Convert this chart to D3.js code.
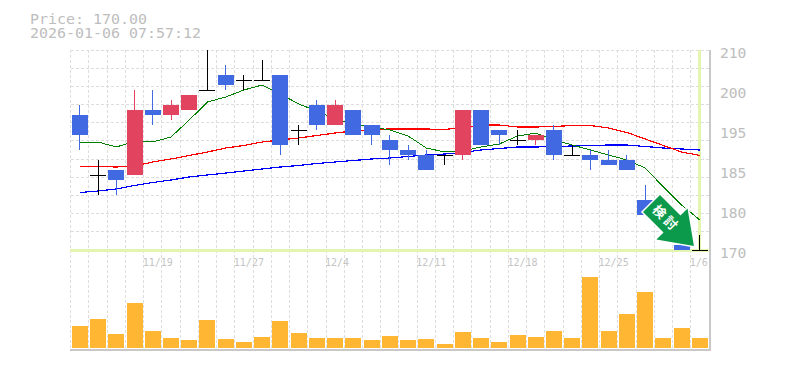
<!DOCTYPE html>
<html><head><meta charset="utf-8">
<style>html,body{margin:0;padding:0;background:#fff}svg{display:block}</style>
<script src="https://cdn.jsdelivr.net/npm/d3@7/dist/d3.min.js"></script>
</head><body><svg id="c" width="785" height="370"></svg>
<script>
const opens  =[197,185,186,185,198,197,198,202,205,204,204,205,194,199,195,198,195,192,190,189,189,189,198,194,192,192,194,189,189,188,188,180,178,171,170];
const closes =[193,185,184,198,197,199,201,202,203,204,204,191,194,195,199,193,193,190,189,186,189,198,191,193,192,193,189,189,188,187,186,177,175,170,170];
const highs  =[199,188,186,202,202,200,201,210,207,205,208,205,195,200,200,198,195,193,191,190,189,198,198,194,194,193,195,191,190,190,189,183,178,171,173];
const lows   =[190,181,181,185,195,196,198,202,202,202,204,189,191,194,195,193,191,187,188,186,187,188,191,191,191,191,188,189,186,187,186,177,175,170,170];
const volumes=[22,29,14,45,17,10,8,28,9,6,11,27,15,10,10,10,8,12,8,9,4,16,10,6,13,11,17,10,71,17,34,56,10,20,10];
const ma5 =[191.6,191.6,190.6,191.7,191.6,192.6,196,199.6,200.6,202,203,201.2,199.2,197.8,196.2,195.2,194.6,194,192.8,190.4,189.6,189.8,190.6,191.2,192.8,193.4,192,191,190,189,188,186.4,182.6,179,176];
const ma25=[186.7,186.7,186.6,186.8,187.6,188.2,188.9,189.6,190.4,190.9,191.6,192,192.4,192.9,193.4,193.8,194.1,194.2,194.2,194.2,194.1,194.5,195,195,194.6,194.6,194.7,194.9,194.9,194.4,193.5,192.2,190.9,189.6,188.9];
const ma75=[181.5,181.8,182.2,182.9,183.5,184,184.6,185,185.4,185.8,186.2,186.6,186.9,187.3,187.6,187.9,188.2,188.4,188.7,189,189.2,189.5,190,190.3,190.6,190.6,190.7,190.8,190.9,191,191,190.7,190.4,190.2,190];
const dayIndex=[...opens.keys()];
const xTickIdx=[4,9,14,19,24,29,34];
const xTickLabels=["11/19","11/27","12/4","12/11","12/18","12/25","1/6"];
const yTickVals=[170,178,186,194,202,210];
const yTickLabels=["170","180","185","195","200","210"];
const priceLabel="Price: 170.00", timeLabel="2026-01-06 07:57:12", currentPrice=170;

const svg=d3.select("#c");
const L=70.7,R=709,T=50,B=250,VT=277,VB=348;
const x=d3.scaleBand().domain(dayIndex).range([L,R]).paddingInner(0);
const cx=i=>x(i)+x.bandwidth()/2;
const y=d3.scaleLinear().domain([170,210]).range([B,T]);
const v=d3.scaleLinear().domain([0,d3.max(volumes)]).range([VB,VT]);
const mono="'DejaVu Sans Mono','Liberation Mono',monospace";
const g=svg.append("g").attr("shape-rendering","crispEdges");

// grid
g.selectAll(".vg").data(d3.range(36)).join("line")
 .attr("x1",i=>L+i*x.step()).attr("x2",i=>L+i*x.step()).attr("y1",T).attr("y2",VB+2)
 .attr("stroke","#ddd").attr("stroke-dasharray","3 2");
g.selectAll(".hg").data(d3.range(12)).join("line")
 .attr("x1",L).attr("x2",R).attr("y1",i=>T+i*(B-T)/11).attr("y2",i=>T+i*(B-T)/11)
 .attr("stroke","#ddd").attr("stroke-dasharray","3 2");
// frame
g.append("line").attr("x1",L-1).attr("x2",R+2).attr("y1",350).attr("y2",350).attr("stroke","#c8c8c8").attr("stroke-width",2);
g.append("line").attr("x1",R+1).attr("x2",R+1).attr("y1",T).attr("y2",350).attr("stroke","#c8c8c8").attr("stroke-width",2);
// current price guide
g.append("line").attr("x1",L-1).attr("x2",R).attr("y1",y(currentPrice)).attr("y2",y(currentPrice)).attr("stroke","#e4f5b0").attr("stroke-width",3);
g.append("line").attr("x1",cx(34)).attr("x2",cx(34)).attr("y1",T).attr("y2",B).attr("stroke","#e4f5b0").attr("stroke-width",3);

// volume
g.selectAll(".vol").data(dayIndex).join("rect")
 .attr("x",i=>cx(i)-8).attr("width",16).attr("y",i=>v(volumes[i])).attr("height",i=>VB-v(volumes[i])).attr("fill","#ffb733");

// moving averages (under the candles)
const ln=d3.line().x((d,i)=>cx(i)).y(d=>y(d));
[[ma75,"#00f",1.2],[ma25,"#f00",1.2],[ma5,"#008000",1]].forEach(([d,c,w])=>
 g.append("path").attr("d",ln(d)).attr("fill","none").attr("stroke",c).attr("stroke-width",w));

// candles
const col=i=>opens[i]===closes[i]?"#000":(closes[i]>opens[i]?"#e2435f":"#4169e1");
g.selectAll(".wick").data(dayIndex).join("line")
 .attr("x1",cx).attr("x2",cx).attr("y1",i=>y(highs[i])).attr("y2",i=>y(lows[i])).attr("stroke",col);
g.selectAll(".body").data(dayIndex.filter(i=>opens[i]!==closes[i])).join("rect")
 .attr("x",i=>cx(i)-8).attr("width",16).attr("y",i=>y(Math.max(opens[i],closes[i])))
 .attr("height",i=>Math.abs(y(opens[i])-y(closes[i]))).attr("fill",col);
g.selectAll(".doji").data(dayIndex.filter(i=>opens[i]===closes[i])).join("line")
 .attr("x1",i=>cx(i)-8).attr("x2",i=>cx(i)+8).attr("y1",i=>y(opens[i])).attr("y2",i=>y(opens[i])).attr("stroke","#000");

// axis text
const t=svg.append("g").attr("font-family",mono);
const stretch=(sel,w)=>sel.each(function(){const s=this.textContent;this.setAttribute("textLength",s.length*w);this.setAttribute("lengthAdjust","spacingAndGlyphs");});
t.selectAll(".yl").data(yTickVals).join("text").attr("x",720).attr("y",d=>y(d)+8)
 .attr("font-size",14).attr("fill","#bdbdbd").text((d,i)=>yTickLabels[i]).call(stretch,8.8);
t.selectAll(".xl").data(xTickIdx).join("text").attr("x",i=>x(i)-1).attr("y",266)
 .attr("font-size",10).attr("fill","#c4c4c4").text((d,i)=>xTickLabels[i]);
t.append("text").attr("x",30).attr("y",23.5).attr("font-size",14).attr("fill","#bdbdbd").text(priceLabel).call(stretch,9);
t.append("text").attr("x",30).attr("y",38).attr("font-size",14).attr("fill","#bdbdbd").text(timeLabel).call(stretch,9);

// arrow badge
const a=svg.append("g").attr("transform","translate(651.5,203.5) rotate(45)");
const shape="M0,-12 L29,-12 L29,-22 L60,0 L29,22 L29,12 L0,12 Z";
a.append("path").attr("d",shape).attr("fill","#fff").attr("stroke","#fff").attr("stroke-width",3);
a.append("path").attr("d",shape).attr("fill","#0b9a4b");
a.append("text").attr("x",21).attr("y",5).attr("text-anchor","middle").attr("font-size",13).attr("font-weight",700)
 .attr("letter-spacing",3).attr("font-family","'Noto Sans CJK JP'").attr("fill","#fff").text("検討");
</script></body></html>
